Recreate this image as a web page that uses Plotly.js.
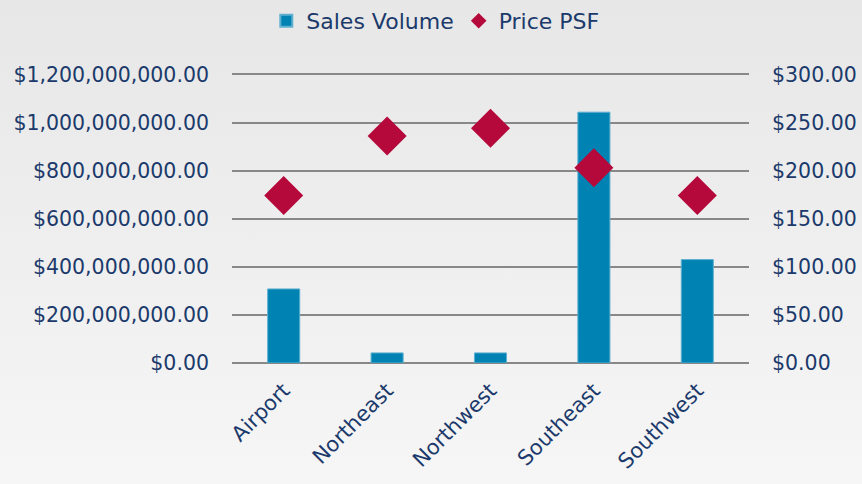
<!DOCTYPE html>
<html>
<head>
<meta charset="utf-8">
<script src="https://cdn.plot.ly/plotly-3.0.1.min.js"></script>
<style>
html,body{margin:0;padding:0;}
body{width:862px;height:484px;background:linear-gradient(to bottom,#e7e7e7 0%,#f6f6f6 100%);}
#chart{width:862px;height:484px;}
</style>
</head>
<body>
<div id="chart"></div>
<script>
const categories = ["Airport", "Northeast", "Northwest", "Southeast", "Southwest"];
const salesVolume = [308000000, 42000000, 42000000, 1043000000, 430000000];
const pricePSF = [174, 236, 244, 203, 174];
const leftTicks = [0, 200000000, 400000000, 600000000, 800000000, 1000000000, 1200000000];
const rightTicks = [0, 50, 100, 150, 200, 250, 300];

const fontFam = "'DejaVu Sans', sans-serif";
const navy = "#1b3a6b";

const traces = [
  {
    type: "bar",
    name: "Sales Volume",
    x: categories,
    y: salesVolume,
    marker: {color: "#0083b3", line: {color: "#5eb0d0", width: 1}},
    yaxis: "y"
  },
  {
    type: "scatter",
    mode: "markers",
    name: "Price PSF",
    x: categories,
    y: pricePSF,
    marker: {symbol: "diamond", size: 30, color: "#b5083b"},
    yaxis: "y2"
  }
];

const layout = {
  width: 862,
  height: 484,
  paper_bgcolor: "rgba(0,0,0,0)",
  plot_bgcolor: "rgba(0,0,0,0)",
  margin: {l: 232, r: 113, t: 72, b: 121},
  bargap: 0.69,
  showlegend: true,
  legend: {
    orientation: "h",
    xref: "container",
    yref: "container",
    x: 0.505,
    xanchor: "center",
    y: 1.0,
    yanchor: "top",
    font: {family: fontFam, size: 22, color: navy},
    itemsizing: "constant",
    bgcolor: "rgba(0,0,0,0)"
  },
  font: {family: fontFam, color: navy},
  xaxis: {
    type: "category",
    tickangle: -45,
    tickfont: {family: fontFam, size: 21, color: navy},
    showgrid: false,
    showline: false,
    ticks: "",
    ticklabelstandoff: 10,
    fixedrange: true
  },
  yaxis: {
    range: [0, 1210000000],
    tickvals: leftTicks,
    tickformat: "$,.2f",
    tickfont: {family: fontFam, size: 20.5, color: navy},
    showgrid: true,
    gridcolor: "#888888",
    gridwidth: 2,
    zeroline: true,
    zerolinecolor: "#888888",
    zerolinewidth: 2,
    showline: false,
    ticks: "",
    ticklabelstandoff: 22
  },
  yaxis2: {
    overlaying: "y",
    side: "right",
    range: [0, 302.5],
    tickvals: rightTicks,
    tickformat: "$,.2f",
    tickfont: {family: fontFam, size: 20.5, color: navy},
    showgrid: false,
    zeroline: false,
    showline: false,
    ticks: "",
    ticklabelstandoff: 22
  }
};

Plotly.newPlot("chart", traces, layout, {displayModeBar: false, staticPlot: true});
</script>
</body>
</html>
